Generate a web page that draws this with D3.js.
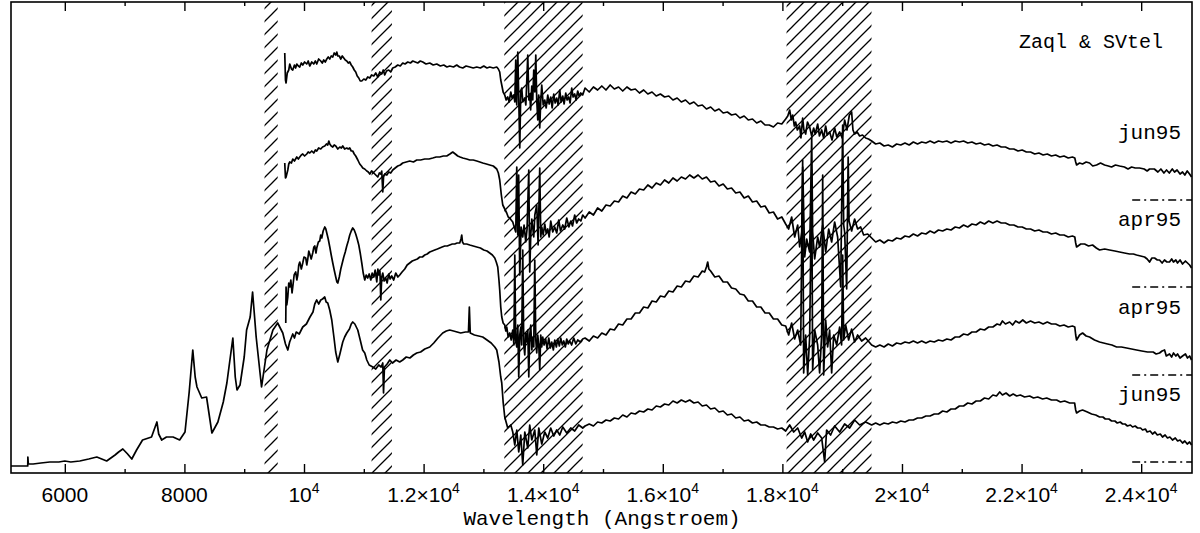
<!DOCTYPE html>
<html><head><meta charset="utf-8">
<script src="https://cdn.jsdelivr.net/npm/d3@7"></script>
<style>body{margin:0;background:#fff}</style>
</head><body><svg id="c" width="1200" height="533"></svg>
<script>
// ---------- data ----------
const seriesNames = ["jun95", "apr95", "apr95", "jun95"];
const offsets = [2.73, 1.86, 0.98, 0.11];           // zero level of each spectrum
const titleText = "Zaql & SVtel";
const xLabel = "Wavelength (Angstroem)";
const hatchBands = [[9340, 9560], [11130, 11470], [13350, 14660], [18070, 19490]];
const majorTicks = [6000, 8000, 10000, 12000, 14000, 16000, 18000, 20000, 22000, 24000];
const minorTicks = [7000, 9000, 11000, 13000, 15000, 17000, 19000, 21000, 23000];
const tickBase = ["6000", "8000", "10", "1.2×10", "1.4×10", "1.6×10", "1.8×10", "2×10", "2.2×10", "2.4×10"];
const tickExp  = ["", "", "4", "4", "4", "4", "4", "4", "4", "4"];

const spec1 = [[9678,1.47],[9690,1.20],[9700,1.17],[9720,1.27],[9745,1.30],[9762,1.36],[9790,1.31],[9812,1.30],[9840,1.35],[9860,1.32],[9879,1.36],[9905,1.34],[9929,1.33],[9955,1.37],[9979,1.35],[10010,1.38],[10046,1.36],[10070,1.39],[10096,1.34],[10130,1.38],[10163,1.36],[10190,1.39],[10213,1.36],[10245,1.41],[10280,1.39],[10305,1.37],[10330,1.40],[10355,1.38],[10381,1.41],[10405,1.43],[10431,1.41],[10455,1.44],[10481,1.43],[10505,1.47],[10531,1.45],[10548,1.48],[10565,1.44],[10590,1.44],[10615,1.41],[10640,1.44],[10665,1.42],[10690,1.40],[10715,1.39],[10740,1.37],[10765,1.38],[10790,1.35],[10815,1.33],[10840,1.30],[10865,1.28],[10890,1.24],[10916,1.22],[10940,1.19],[10966,1.19],[11000,1.21],[11033,1.20],[11066,1.23],[11100,1.22],[11130,1.25],[11167,1.24],[11200,1.27],[11234,1.23],[11267,1.28],[11300,1.26],[11325,1.30],[11350,1.25],[11380,1.29],[11417,1.30],[11450,1.28],[11484,1.32],[11525,1.33],[11568,1.35],[11610,1.34],[11651,1.37],[11690,1.36],[11735,1.38],[11780,1.37],[11819,1.39],[11860,1.38],[11902,1.37],[11945,1.39],[11986,1.38],[12040,1.36],[12103,1.37],[12160,1.35],[12220,1.36],[12280,1.34],[12337,1.35],[12390,1.33],[12437,1.34],[12500,1.33],[12554,1.35],[12600,1.33],[12655,1.32],[12710,1.34],[12772,1.33],[12830,1.32],[12889,1.33],[12950,1.32],[13006,1.34],[13060,1.32],[13106,1.33],[13165,1.32],[13223,1.33],[13250,1.31],[13273,1.28],[13290,1.20],[13307,1.15],[13330,1.08],[13357,1.05],[13380,1.00],[13407,1.03],[13430,0.98],[13458,1.08],[13480,1.02],[13508,1.05],[13525,0.98],[13541,1.40],[13550,1.02],[13558,0.95],[13575,1.48],[13590,1.05],[13608,0.52],[13625,1.08],[13641,1.12],[13660,0.98],[13692,1.02],[13710,0.95],[13742,1.45],[13760,1.00],[13775,1.06],[13790,0.90],[13809,1.14],[13825,1.00],[13842,1.30],[13860,1.08],[13876,1.45],[13892,1.00],[13909,0.80],[13925,1.05],[13942,0.72],[13960,1.00],[13976,1.15],[14000,0.95],[14026,1.00],[14050,0.92],[14076,1.05],[14100,0.96],[14126,1.03],[14150,0.92],[14176,1.06],[14200,0.97],[14226,1.02],[14250,0.95],[14277,1.10],[14300,0.98],[14327,1.04],[14350,0.96],[14377,1.07],[14400,1.00],[14427,1.03],[14450,0.97],[14477,1.12],[14500,1.03],[14527,1.06],[14550,1.00],[14577,1.09],[14600,1.04],[14628,1.07],[14661,1.05],[14700,1.12],[14770,1.08],[14840,1.13],[14910,1.10],[14980,1.14],[15050,1.10],[15120,1.15],[15190,1.11],[15260,1.13],[15330,1.09],[15400,1.13],[15470,1.10],[15540,1.11],[15610,1.07],[15680,1.10],[15750,1.06],[15820,1.08],[15890,1.04],[15960,1.06],[16030,1.03],[16100,1.04],[16170,1.00],[16240,1.02],[16310,0.98],[16380,1.00],[16450,0.96],[16520,0.98],[16590,0.94],[16660,0.95],[16730,0.91],[16800,0.93],[16870,0.89],[16940,0.91],[17010,0.87],[17080,0.88],[17150,0.85],[17220,0.86],[17290,0.82],[17360,0.84],[17430,0.80],[17500,0.81],[17570,0.77],[17640,0.79],[17710,0.75],[17780,0.75],[17850,0.73],[17920,0.77],[17990,0.76],[18055,0.81],[18090,0.84],[18122,0.90],[18150,0.80],[18172,0.85],[18200,0.74],[18222,0.78],[18250,0.70],[18289,0.74],[18310,0.62],[18339,0.82],[18360,0.70],[18389,0.66],[18420,0.78],[18456,0.73],[18490,0.64],[18523,0.72],[18550,0.66],[18590,0.76],[18620,0.64],[18657,0.70],[18690,0.62],[18724,0.74],[18750,0.65],[18790,0.68],[18830,0.60],[18874,0.72],[18910,0.63],[18958,0.68],[19000,0.62],[19041,0.80],[19080,0.70],[19120,0.85],[19158,0.88],[19180,0.70],[19208,0.66],[19250,0.68],[19292,0.64],[19340,0.65],[19392,0.62],[19440,0.61],[19493,0.59],[19560,0.56],[19630,0.57],[19700,0.54],[19770,0.55],[19840,0.53],[19910,0.56],[19980,0.55],[20050,0.57],[20120,0.55],[20190,0.58],[20260,0.56],[20330,0.58],[20400,0.57],[20470,0.59],[20540,0.57],[20610,0.59],[20680,0.58],[20750,0.59],[20820,0.57],[20890,0.59],[20960,0.58],[21030,0.59],[21100,0.57],[21170,0.58],[21240,0.56],[21310,0.57],[21380,0.55],[21450,0.56],[21520,0.54],[21590,0.55],[21660,0.53],[21730,0.53],[21800,0.51],[21870,0.51],[21940,0.49],[22010,0.50],[22080,0.48],[22150,0.48],[22220,0.46],[22290,0.47],[22360,0.45],[22430,0.46],[22500,0.44],[22570,0.45],[22640,0.43],[22710,0.44],[22780,0.42],[22850,0.43],[22890,0.42],[22905,0.38],[22920,0.35],[22970,0.37],[23020,0.36],[23080,0.38],[23137,0.37],[23190,0.34],[23254,0.35],[23320,0.37],[23388,0.35],[23450,0.34],[23505,0.33],[23570,0.35],[23639,0.34],[23720,0.33],[23780,0.31],[23840,0.33],[23900,0.32],[23973,0.32],[24050,0.31],[24100,0.29],[24140,0.31],[24220,0.31],[24280,0.28],[24330,0.31],[24380,0.27],[24424,0.30],[24470,0.27],[24520,0.31],[24558,0.28],[24600,0.30],[24650,0.26],[24692,0.28],[24730,0.25],[24770,0.29],[24809,0.26],[24843,0.23]];

const spec2 = [[9678,1.24],[9690,1.09],[9700,1.10],[9729,1.17],[9745,1.23],[9762,1.25],[9790,1.24],[9812,1.28],[9840,1.26],[9879,1.30],[9905,1.28],[9929,1.30],[9955,1.32],[9979,1.33],[10010,1.31],[10046,1.33],[10070,1.35],[10096,1.34],[10130,1.36],[10163,1.34],[10190,1.37],[10213,1.36],[10245,1.39],[10280,1.38],[10310,1.40],[10347,1.41],[10375,1.43],[10397,1.42],[10415,1.46],[10431,1.43],[10455,1.41],[10481,1.40],[10505,1.42],[10531,1.41],[10565,1.38],[10598,1.40],[10625,1.39],[10648,1.41],[10680,1.38],[10715,1.39],[10740,1.38],[10765,1.39],[10790,1.36],[10815,1.36],[10840,1.33],[10865,1.31],[10900,1.27],[10932,1.23],[10960,1.21],[10983,1.19],[11015,1.18],[11050,1.16],[11075,1.15],[11100,1.13],[11130,1.16],[11167,1.14],[11200,1.12],[11234,1.10],[11260,1.14],[11284,1.13],[11300,1.16],[11317,0.95],[11330,1.10],[11350,1.13],[11385,1.12],[11417,1.15],[11450,1.14],[11484,1.17],[11525,1.19],[11568,1.21],[11610,1.22],[11651,1.24],[11710,1.25],[11768,1.26],[11830,1.25],[11885,1.27],[11950,1.27],[12019,1.28],[12090,1.28],[12153,1.29],[12210,1.30],[12270,1.30],[12330,1.31],[12387,1.31],[12440,1.33],[12487,1.35],[12530,1.33],[12571,1.31],[12610,1.30],[12655,1.29],[12720,1.28],[12772,1.27],[12830,1.27],[12889,1.26],[12940,1.25],[12989,1.24],[13050,1.23],[13106,1.22],[13165,1.21],[13223,1.18],[13250,1.14],[13273,1.07],[13300,0.92],[13324,0.82],[13357,0.78],[13390,0.74],[13415,0.70],[13441,0.69],[13465,0.67],[13491,0.65],[13515,0.60],[13541,0.55],[13558,1.20],[13575,0.52],[13590,1.12],[13608,0.12],[13630,0.60],[13658,0.50],[13680,0.62],[13708,0.45],[13730,0.58],[13759,1.17],[13775,0.15],[13792,0.52],[13810,0.68],[13842,0.50],[13860,0.72],[13892,0.82],[13915,0.42],[13942,1.19],[13960,0.50],[13976,0.60],[14000,0.52],[14026,0.63],[14050,0.54],[14076,0.58],[14100,0.50],[14126,0.66],[14160,0.55],[14193,0.60],[14226,0.54],[14260,0.67],[14290,0.56],[14327,0.62],[14360,0.58],[14394,0.69],[14430,0.60],[14461,0.66],[14490,0.61],[14527,0.72],[14560,0.64],[14594,0.68],[14630,0.66],[14661,0.72],[14700,0.69],[14770,0.75],[14840,0.72],[14910,0.79],[14980,0.76],[15050,0.82],[15120,0.81],[15190,0.86],[15260,0.85],[15330,0.91],[15400,0.89],[15470,0.95],[15540,0.93],[15610,0.98],[15680,0.97],[15750,1.02],[15820,0.99],[15890,1.04],[15960,1.02],[16030,1.07],[16100,1.04],[16170,1.09],[16240,1.06],[16310,1.10],[16380,1.08],[16450,1.12],[16520,1.09],[16590,1.12],[16660,1.08],[16730,1.10],[16800,1.05],[16870,1.06],[16940,1.01],[17010,1.03],[17080,0.98],[17150,0.99],[17220,0.94],[17290,0.95],[17360,0.89],[17430,0.91],[17500,0.85],[17570,0.86],[17640,0.80],[17710,0.81],[17780,0.74],[17850,0.75],[17920,0.68],[17990,0.70],[18055,0.63],[18105,0.58],[18155,0.70],[18205,0.50],[18256,0.62],[18289,0.40],[18323,0.55],[18340,1.20],[18373,0.30],[18406,0.48],[18456,0.35],[18490,1.50],[18506,0.55],[18540,0.28],[18590,0.50],[18623,0.40],[18674,0.62],[18724,0.35],[18774,0.58],[18824,0.45],[18874,0.65],[18924,0.50],[18975,0.00],[19008,1.62],[19025,0.62],[19041,0.55],[19075,-0.02],[19100,1.30],[19115,0.66],[19158,0.56],[19208,0.68],[19258,0.58],[19309,0.60],[19359,0.52],[19426,0.53],[19493,0.49],[19560,0.45],[19630,0.47],[19700,0.44],[19770,0.47],[19840,0.46],[19910,0.49],[19980,0.48],[20050,0.51],[20120,0.50],[20190,0.53],[20260,0.51],[20330,0.54],[20400,0.53],[20470,0.56],[20540,0.54],[20610,0.57],[20680,0.56],[20750,0.58],[20820,0.57],[20890,0.60],[20960,0.59],[21030,0.62],[21100,0.60],[21170,0.63],[21240,0.62],[21310,0.65],[21380,0.63],[21450,0.66],[21520,0.64],[21590,0.66],[21660,0.64],[21730,0.64],[21800,0.62],[21870,0.62],[21940,0.60],[22010,0.60],[22080,0.58],[22150,0.58],[22220,0.56],[22290,0.57],[22360,0.55],[22430,0.55],[22500,0.53],[22570,0.54],[22640,0.52],[22710,0.52],[22780,0.50],[22850,0.51],[22890,0.50],[22905,0.44],[22920,0.40],[22990,0.43],[23054,0.43],[23120,0.41],[23187,0.42],[23250,0.39],[23304,0.37],[23390,0.38],[23471,0.37],[23560,0.36],[23639,0.35],[23720,0.34],[23806,0.33],[23870,0.33],[23923,0.32],[23990,0.31],[24057,0.30],[24100,0.28],[24140,0.25],[24180,0.29],[24224,0.29],[24270,0.27],[24307,0.27],[24350,0.24],[24390,0.27],[24430,0.25],[24474,0.25],[24510,0.28],[24540,0.25],[24580,0.27],[24608,0.24],[24650,0.27],[24692,0.23],[24740,0.26],[24775,0.24],[24810,0.22],[24843,0.19]];

const spec3 = [[9695,0.52],[9700,0.88],[9712,0.70],[9729,0.78],[9745,0.92],[9762,0.88],[9780,0.95],[9800,0.82],[9812,0.88],[9835,1.00],[9862,1.03],[9880,0.95],[9896,1.00],[9912,1.10],[9929,1.13],[9955,1.06],[9979,1.12],[10000,1.18],[10029,1.17],[10046,1.10],[10063,1.16],[10080,1.24],[10096,1.21],[10120,1.16],[10146,1.22],[10165,1.28],[10180,1.29],[10200,1.22],[10213,1.27],[10240,1.33],[10263,1.34],[10280,1.40],[10297,1.37],[10320,1.44],[10347,1.48],[10365,1.46],[10381,1.42],[10405,1.36],[10431,1.28],[10455,1.20],[10481,1.12],[10505,1.05],[10531,0.98],[10550,0.93],[10565,0.92],[10590,0.98],[10615,1.06],[10640,1.12],[10665,1.18],[10690,1.23],[10715,1.29],[10740,1.34],[10765,1.40],[10790,1.44],[10815,1.47],[10840,1.45],[10865,1.41],[10890,1.36],[10916,1.30],[10940,1.22],[10966,1.12],[10990,1.02],[11016,0.95],[11040,1.00],[11066,0.97],[11090,1.01],[11117,0.95],[11140,1.02],[11167,0.98],[11190,1.05],[11217,0.93],[11235,1.06],[11250,1.00],[11270,1.04],[11284,0.75],[11300,0.98],[11317,1.02],[11340,0.94],[11367,0.97],[11390,0.92],[11417,1.01],[11440,0.96],[11467,0.99],[11500,0.95],[11534,1.02],[11570,0.98],[11601,1.00],[11640,1.03],[11685,1.06],[11725,1.10],[11768,1.12],[11810,1.14],[11852,1.15],[11895,1.16],[11936,1.18],[11980,1.18],[12019,1.20],[12060,1.21],[12103,1.23],[12145,1.24],[12186,1.25],[12230,1.26],[12270,1.27],[12310,1.28],[12354,1.29],[12395,1.29],[12437,1.30],[12480,1.31],[12521,1.31],[12560,1.32],[12604,1.32],[12625,1.36],[12638,1.40],[12650,1.33],[12671,1.31],[12720,1.31],[12772,1.30],[12830,1.29],[12889,1.28],[12950,1.27],[13006,1.25],[13060,1.24],[13106,1.22],[13150,1.20],[13190,1.17],[13215,1.13],[13240,1.08],[13260,0.95],[13273,0.85],[13290,0.68],[13307,0.58],[13330,0.52],[13357,0.50],[13375,0.44],[13390,0.48],[13415,0.38],[13441,0.42],[13465,0.35],[13491,0.45],[13510,0.30],[13525,1.20],[13540,0.35],[13558,0.28],[13575,0.50],[13591,-0.02],[13608,0.40],[13625,0.48],[13640,0.30],[13658,1.25],[13675,0.30],[13692,0.20],[13708,0.42],[13725,0.33],[13742,0.45],[13759,-0.02],[13775,0.40],[13792,0.50],[13810,0.25],[13826,0.38],[13842,0.28],[13859,1.15],[13876,0.35],[13892,0.22],[13909,0.40],[13926,0.30],[13942,0.05],[13959,0.40],[13976,0.28],[13992,0.38],[14015,0.30],[14042,0.36],[14065,0.26],[14093,0.37],[14120,0.27],[14143,0.33],[14170,0.25],[14193,0.35],[14220,0.28],[14243,0.36],[14270,0.29],[14293,0.37],[14320,0.30],[14344,0.34],[14370,0.28],[14394,0.36],[14420,0.31],[14444,0.34],[14475,0.30],[14511,0.37],[14545,0.31],[14577,0.35],[14620,0.33],[14661,0.36],[14700,0.37],[14770,0.34],[14840,0.39],[14910,0.37],[14980,0.42],[15050,0.40],[15120,0.46],[15190,0.45],[15260,0.51],[15330,0.50],[15400,0.56],[15470,0.56],[15540,0.62],[15610,0.62],[15680,0.68],[15750,0.67],[15820,0.74],[15890,0.73],[15960,0.79],[16030,0.78],[16100,0.84],[16170,0.83],[16240,0.89],[16310,0.88],[16380,0.94],[16450,0.93],[16520,0.99],[16590,0.98],[16660,1.04],[16700,1.03],[16730,1.08],[16751,1.13],[16770,1.06],[16800,1.04],[16870,0.98],[16940,0.99],[17010,0.93],[17080,0.93],[17150,0.87],[17220,0.86],[17290,0.81],[17360,0.80],[17430,0.74],[17500,0.74],[17570,0.68],[17640,0.68],[17710,0.62],[17780,0.62],[17850,0.56],[17920,0.56],[17990,0.50],[18055,0.49],[18105,0.40],[18155,0.52],[18205,0.36],[18256,0.45],[18306,0.30],[18339,2.15],[18356,0.02],[18389,0.40],[18423,0.00],[18456,0.38],[18490,2.05],[18506,0.05],[18540,0.45],[18590,0.30],[18623,0.02],[18657,0.40],[18674,2.00],[18690,0.00],[18724,0.55],[18757,0.28],[18790,0.45],[18824,0.02],[18858,0.40],[18908,0.30],[18958,0.48],[18990,0.30],[19008,1.20],[19025,0.35],[19058,0.50],[19108,0.35],[19158,0.46],[19208,0.33],[19258,0.40],[19326,0.34],[19392,0.37],[19493,0.30],[19560,0.28],[19630,0.30],[19700,0.28],[19770,0.31],[19840,0.29],[19910,0.32],[19980,0.31],[20050,0.33],[20120,0.32],[20190,0.34],[20260,0.32],[20330,0.34],[20400,0.32],[20470,0.34],[20540,0.33],[20610,0.35],[20680,0.34],[20750,0.36],[20820,0.35],[20890,0.38],[20960,0.38],[21030,0.41],[21100,0.40],[21170,0.43],[21240,0.43],[21310,0.46],[21380,0.45],[21450,0.48],[21520,0.48],[21590,0.51],[21640,0.50],[21680,0.54],[21730,0.51],[21800,0.53],[21850,0.50],[21900,0.54],[21960,0.52],[22020,0.55],[22080,0.52],[22150,0.54],[22220,0.52],[22290,0.53],[22360,0.51],[22430,0.53],[22500,0.51],[22570,0.51],[22640,0.49],[22710,0.50],[22780,0.48],[22850,0.49],[22890,0.48],[22905,0.40],[22920,0.35],[22970,0.40],[23020,0.42],[23080,0.39],[23137,0.38],[23220,0.35],[23304,0.33],[23370,0.32],[23438,0.31],[23510,0.30],[23589,0.28],[23670,0.28],[23756,0.27],[23840,0.26],[23923,0.25],[24010,0.24],[24107,0.23],[24200,0.23],[24250,0.21],[24307,0.22],[24350,0.24],[24391,0.25],[24420,0.19],[24474,0.21],[24510,0.18],[24540,0.22],[24580,0.19],[24608,0.21],[24650,0.17],[24692,0.19],[24740,0.21],[24775,0.17],[24810,0.19],[24843,0.15]];

const spec4 = [[5100,-0.04],[5380,-0.04],[5382,0.05],[5390,-0.02],[5470,-0.02],[5600,-0.01],[5750,0.00],[5900,0.00],[6000,0.01],[6100,0.00],[6250,0.01],[6400,0.03],[6535,0.05],[6700,0.01],[6840,0.07],[6900,0.10],[6970,0.13],[7050,0.08],[7120,0.03],[7200,0.12],[7300,0.22],[7450,0.25],[7540,0.40],[7570,0.28],[7620,0.22],[7700,0.25],[7810,0.25],[7920,0.22],[8010,0.30],[8080,0.70],[8140,1.12],[8180,0.85],[8210,0.75],[8290,0.64],[8370,0.65],[8460,0.29],[8560,0.40],[8650,0.60],[8710,0.79],[8810,1.24],[8850,0.85],[8880,0.72],[8930,0.77],[9000,1.05],[9040,1.32],[9100,1.45],[9140,1.70],[9200,1.25],[9290,0.75],[9380,1.12],[9480,1.32],[9560,1.39],[9645,1.29],[9690,1.18],[9729,1.12],[9760,1.20],[9812,1.28],[9840,1.24],[9870,1.30],[9920,1.28],[9979,1.35],[10040,1.38],[10100,1.45],[10150,1.50],[10180,1.58],[10213,1.62],[10245,1.58],[10280,1.62],[10310,1.63],[10347,1.65],[10370,1.60],[10397,1.59],[10430,1.52],[10464,1.42],[10500,1.25],[10530,1.10],[10565,1.00],[10600,1.08],[10648,1.20],[10680,1.25],[10715,1.29],[10760,1.33],[10790,1.38],[10815,1.40],[10850,1.38],[10899,1.32],[10940,1.22],[10980,1.12],[11016,1.09],[11050,1.02],[11090,0.97],[11150,0.95],[11200,0.93],[11250,0.97],[11290,0.95],[11317,0.99],[11330,0.69],[11345,0.95],[11390,0.98],[11434,1.02],[11480,0.99],[11540,1.02],[11600,1.00],[11651,1.02],[11710,1.05],[11770,1.04],[11830,1.07],[11885,1.09],[11950,1.10],[12020,1.13],[12103,1.15],[12170,1.19],[12240,1.24],[12320,1.29],[12380,1.31],[12437,1.32],[12500,1.31],[12560,1.30],[12620,1.29],[12700,1.30],[12750,1.30],[12765,1.55],[12780,1.29],[12850,1.27],[12920,1.26],[12989,1.25],[13060,1.22],[13130,1.19],[13190,1.15],[13223,1.12],[13260,1.00],[13290,0.85],[13307,0.79],[13330,0.60],[13357,0.45],[13407,0.34],[13458,0.37],[13491,0.30],[13525,0.17],[13558,0.32],[13591,0.10],[13625,0.27],[13658,-0.03],[13692,0.30],[13742,0.14],[13775,0.37],[13809,0.22],[13859,0.32],[13892,0.07],[13926,0.34],[13976,0.18],[14026,0.30],[14076,0.24],[14126,0.34],[14176,0.26],[14226,0.32],[14277,0.27],[14327,0.35],[14394,0.29],[14461,0.34],[14527,0.31],[14594,0.37],[14661,0.34],[14700,0.36],[14770,0.38],[14840,0.36],[14910,0.40],[14980,0.39],[15050,0.42],[15120,0.41],[15190,0.44],[15260,0.43],[15330,0.47],[15400,0.45],[15470,0.49],[15540,0.48],[15610,0.51],[15680,0.50],[15750,0.53],[15820,0.52],[15890,0.56],[15960,0.55],[16030,0.58],[16100,0.57],[16170,0.61],[16240,0.59],[16310,0.62],[16380,0.60],[16450,0.62],[16520,0.59],[16590,0.60],[16660,0.56],[16730,0.57],[16800,0.53],[16870,0.54],[16940,0.50],[17010,0.51],[17080,0.47],[17150,0.48],[17220,0.44],[17290,0.45],[17360,0.41],[17430,0.42],[17500,0.39],[17570,0.40],[17640,0.37],[17710,0.37],[17780,0.35],[17850,0.35],[17920,0.33],[17990,0.34],[18055,0.31],[18122,0.37],[18189,0.30],[18256,0.34],[18323,0.24],[18373,0.30],[18423,0.20],[18473,0.28],[18523,0.22],[18590,0.29],[18657,0.24],[18707,0.00],[18740,0.32],[18807,0.27],[18874,0.36],[18958,0.30],[19041,0.38],[19125,0.34],[19208,0.42],[19292,0.37],[19392,0.40],[19493,0.37],[19560,0.39],[19630,0.37],[19700,0.39],[19770,0.38],[19840,0.40],[19910,0.39],[19980,0.41],[20050,0.40],[20120,0.42],[20190,0.42],[20260,0.44],[20330,0.44],[20400,0.46],[20470,0.46],[20540,0.48],[20610,0.48],[20680,0.51],[20750,0.50],[20820,0.53],[20890,0.53],[20960,0.56],[21030,0.56],[21100,0.59],[21170,0.58],[21240,0.61],[21310,0.61],[21380,0.64],[21450,0.63],[21520,0.67],[21580,0.66],[21634,0.70],[21680,0.67],[21740,0.69],[21801,0.66],[21860,0.68],[21918,0.66],[21980,0.67],[22050,0.65],[22135,0.66],[22200,0.64],[22270,0.65],[22352,0.63],[22420,0.64],[22500,0.62],[22586,0.62],[22650,0.60],[22720,0.61],[22804,0.59],[22887,0.59],[22905,0.52],[22920,0.49],[22970,0.51],[23020,0.52],[23100,0.50],[23171,0.48],[23240,0.47],[23304,0.45],[23360,0.45],[23400,0.43],[23460,0.43],[23505,0.41],[23560,0.41],[23600,0.39],[23650,0.40],[23689,0.38],[23730,0.38],[23770,0.36],[23820,0.37],[23856,0.35],[23900,0.36],[23940,0.34],[23990,0.34],[24023,0.32],[24070,0.33],[24100,0.30],[24150,0.31],[24190,0.28],[24230,0.30],[24270,0.27],[24320,0.28],[24357,0.25],[24400,0.27],[24440,0.24],[24480,0.25],[24524,0.22],[24570,0.24],[24610,0.21],[24650,0.22],[24692,0.19],[24730,0.21],[24770,0.18],[24810,0.20],[24843,0.17]];

const spectra = [spec1, spec2, spec3, spec4];

// ---------- layout ----------
const pLeft = 11, pRight = 1192, pTop = 2, pBottom = 473;
const svg = d3.select("#c");
const x = d3.scaleLinear().domain([5100, 24850]).range([pLeft, pRight]);
const y = d3.scaleLinear().domain([0, 4.71]).range([pBottom, pTop]);

// hatch pattern
const defs = svg.append("defs");
const pat = defs.append("pattern").attr("id", "hatch").attr("patternUnits", "userSpaceOnUse")
  .attr("width", 13).attr("height", 13);
pat.append("path").attr("d", "M0,13 L13,0 M-3.25,3.25 L3.25,-3.25 M9.75,16.25 L16.25,9.75")
  .attr("stroke", "#000").attr("stroke-width", 1.3);

svg.append("g").selectAll("rect").data(hatchBands).join("rect")
  .attr("x", d => x(d[0])).attr("width", d => x(d[1]) - x(d[0]))
  .attr("y", pTop).attr("height", pBottom - pTop)
  .attr("fill", "url(#hatch)");

// axes (bottom & top with inner ticks)
const font = "'Liberation Sans', Arial, sans-serif";
const mono = "'Liberation Mono', 'DejaVu Sans Mono', monospace";
const axB = svg.append("g").attr("transform", `translate(0,${pBottom})`)
  .call(d3.axisBottom(x).tickValues(majorTicks).tickSize(-9).tickFormat(""));
const axBm = svg.append("g").attr("transform", `translate(0,${pBottom})`)
  .call(d3.axisBottom(x).tickValues(minorTicks).tickSize(-4).tickFormat(""));
const axT = svg.append("g").attr("transform", `translate(0,${pTop})`)
  .call(d3.axisTop(x).tickValues(majorTicks).tickSize(-9).tickFormat(""));
const axTm = svg.append("g").attr("transform", `translate(0,${pTop})`)
  .call(d3.axisTop(x).tickValues(minorTicks).tickSize(-4).tickFormat(""));
[axB, axBm, axT, axTm].forEach(g => {
  g.select(".domain").remove();
  g.selectAll("line").attr("stroke", "#000").attr("stroke-width", 1.4);
});

// tick labels with superscripts
const lab = svg.append("g").selectAll("text").data(majorTicks).join("text")
  .attr("x", d => x(d)).attr("y", 502)
  .attr("text-anchor", "middle").attr("font-family", font).attr("font-size", 21).attr("fill", "#000");
lab.append("tspan").text((d, i) => tickBase[i]);
lab.append("tspan").attr("dy", -9).attr("font-size", 14).text((d, i) => tickExp[i]);

// x axis title
svg.append("text").attr("x", 602).attr("y", 525).attr("text-anchor", "middle")
  .attr("font-family", mono).attr("font-size", 21).attr("fill", "#000").text(xLabel);

// spectra
const line = d3.line().x(d => x(d[0])).y(d => y(d[1]));
svg.append("g").selectAll("path").data(spectra).join("path")
  .attr("d", (s, i) => line(s.map(p => [p[0], p[1] + offsets[i]])))
  .attr("fill", "none").attr("stroke", "#000").attr("stroke-width", 1.7).attr("stroke-linejoin", "round");

// zero-level dash-dot markers
svg.append("g").selectAll("line").data(offsets).join("line")
  .attr("x1", x(23850)).attr("x2", x(24850))
  .attr("y1", d => y(d)).attr("y2", d => y(d))
  .attr("stroke", "#000").attr("stroke-width", 1.4).attr("stroke-dasharray", "8,4,2,4");

// series labels
svg.append("g").selectAll("text").data(seriesNames).join("text")
  .attr("x", 1181).attr("y", (d, i) => y(offsets[i] + 0.61))
  .attr("text-anchor", "end").attr("font-family", mono).attr("font-size", 21).attr("fill", "#000")
  .text(d => d);

svg.append("text").attr("x", 1163).attr("y", 48).attr("text-anchor", "end")
  .attr("font-family", mono).attr("font-size", 20).attr("fill", "#000").text(titleText);

// frame
svg.append("rect").attr("x", pLeft).attr("y", pTop).attr("width", pRight - pLeft).attr("height", pBottom - pTop)
  .attr("fill", "none").attr("stroke", "#000").attr("stroke-width", 1.6);
</script></body></html>
